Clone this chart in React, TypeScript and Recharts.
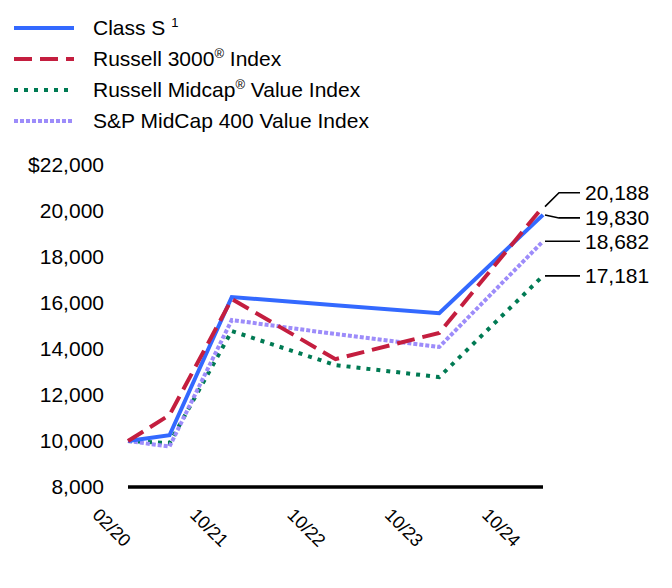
import React from "react";
import { LineChart, Line, XAxis, YAxis, LabelList } from "recharts";

const dates = ["02/20", "10/20", "10/21", "10/22", "10/23", "10/24"];
const xValues = [0, 0.4, 1, 2, 3, 4];
const xTicks = [0, 1, 2, 3, 4];
const xTickLabels = ["02/20", "10/21", "10/22", "10/23", "10/24"];
const yTicks = [8000, 10000, 12000, 14000, 16000, 18000, 20000, 22000];

const classS = [10000, 10250, 16260, 15900, 15560, 19830];
const russell3000 = [10000, 11130, 16170, 13560, 14700, 20188];
const midcapValue = [10000, 9910, 14780, 13300, 12780, 17181];
const sp400Value = [10000, 9760, 15260, 14650, 14090, 18682];

const data = dates.map((d, i) => ({
  date: d,
  x: xValues[i],
  classS: classS[i],
  russell3000: russell3000[i],
  midcapValue: midcapValue[i],
  sp400Value: sp400Value[i],
}));

const FONT = "'Liberation Sans', Arial, Helvetica, sans-serif";

type SeriesCfg = {
  key: string;
  name: string;
  sup?: string;
  color: string;
  width: number;
  dash?: string;
  labelDy: number;
};

const series: SeriesCfg[] = [
  { key: "classS", name: "Class S ", sup: "1", color: "#3369FF", width: 4, labelDy: 3 },
  { key: "russell3000", name: "Russell 3000", sup: "®", color: "#C41E3F", width: 4, dash: "18 8", labelDy: -14 },
  { key: "midcapValue", name: "Russell Midcap", sup: "®", color: "#007A53", width: 4, dash: "4 6", labelDy: 0 },
  { key: "sp400Value", name: "S&P MidCap 400 Value Index", color: "#9D8CFA", width: 4, dash: "4 2", labelDy: 0 },
];

const legendSuffix: Record<string, string> = {
  classS: "",
  russell3000: " Index",
  midcapValue: " Value Index",
  sp400Value: "",
};

const drawOrder = ["midcapValue", "sp400Value", "classS", "russell3000"];

const fmt = (v: number) => v.toLocaleString("en-US");

const makeEndLabel = (dy: number) => (props: any) => {
  const { x, y, value, index } = props;
  if (index !== data.length - 1) return null;
  return (
    <g>
      <polyline
        points={`${x + 2},${y} ${x + 16},${y + dy} ${x + 37},${y + dy}`}
        fill="none"
        stroke="#000"
        strokeWidth={1.6}
      />
      <text
        x={x + 42}
        y={y + dy}
        dy="0.36em"
        fontSize={21}
        fontFamily={FONT}
        fill="#000"
      >
        {fmt(value)}
      </text>
    </g>
  );
};

const XTick = (props: any) => {
  const { x, y, payload } = props;
  const i = xTicks.indexOf(payload.value);
  const ax = x - 36.5 - payload.value * 6.35;
  const ay = y + 21;
  return (
    <text
      x={ax}
      y={ay}
      transform={`rotate(45, ${ax}, ${ay})`}
      textAnchor="start"
      fontSize={18}
      fontFamily={FONT}
      fill="#000"
    >
      {xTickLabels[i]}
    </text>
  );
};

const Legend = () => (
  <div style={{ position: "absolute", left: 0, top: 12, fontFamily: FONT, fontSize: 21, color: "#000" }}>
    {series.map((s) => (
      <div key={s.key} style={{ position: "relative", height: 31, lineHeight: "31px", whiteSpace: "nowrap" }}>
        <svg width={60} height={8} style={{ position: "absolute", left: 14, top: 12 }}>
          <line x1={0} y1={4} x2={60} y2={4} stroke={s.color} strokeWidth={s.width} strokeDasharray={s.dash} />
        </svg>
        <span style={{ position: "absolute", left: 93, top: 0 }}>
          {s.name}
          {s.sup ? (
            <span style={{ fontSize: 13, position: "relative", top: -8 }}>{s.sup}</span>
          ) : null}
          {legendSuffix[s.key]}
        </span>
      </div>
    ))}
  </div>
);

export default function App() {
  const ordered = drawOrder.map((k) => series.find((s) => s.key === k)!);
  return (
    <div style={{ position: "absolute", left: 0, top: 0, width: 672, height: 588, background: "#fff" }}>
      <LineChart
        width={672}
        height={588}
        data={data}
        margin={{ top: 165, right: 129, left: 0, bottom: 0 }}
      >
        <XAxis
          dataKey="x"
          type="number"
          domain={[0, 4]}
          ticks={xTicks}
          tick={<XTick />}
          tickLine={false}
          axisLine={{ stroke: "#000", strokeWidth: 3.5 }}
          height={101}
          interval={0}
        />
        <YAxis
          type="number"
          domain={[8000, 22000]}
          ticks={yTicks}
          width={128}
          tickLine={false}
          axisLine={false}
          tickSize={0}
          tickMargin={24}
          interval={0}
          tick={{ fontSize: 21, fill: "#000", fontFamily: FONT }}
          tickFormatter={(v: number) => (v === 22000 ? "$" + fmt(v) : fmt(v))}
        />
        {ordered.map((s) => (
          <Line
            key={s.key}
            type="linear"
            dataKey={s.key}
            stroke={s.color}
            strokeWidth={s.width}
            strokeDasharray={s.dash}
            dot={false}
            activeDot={false}
            isAnimationActive={false}
          >
            <LabelList dataKey={s.key} content={makeEndLabel(s.labelDy)} />
          </Line>
        ))}
      </LineChart>
      <Legend />
    </div>
  );
}
